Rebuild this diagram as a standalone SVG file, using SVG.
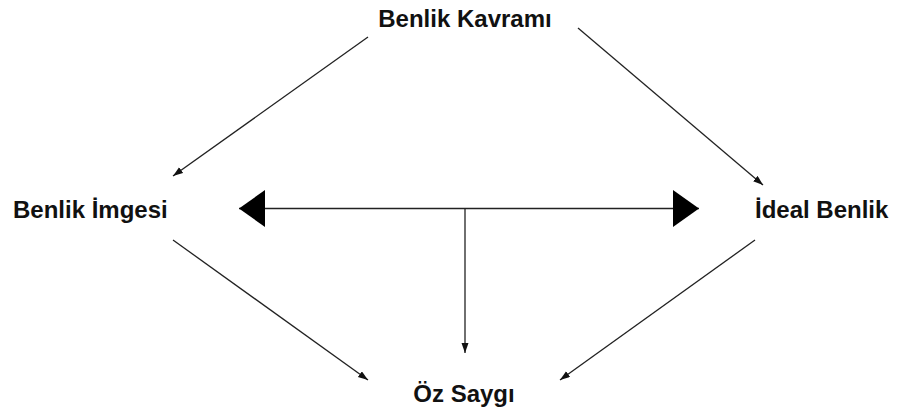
<svg xmlns="http://www.w3.org/2000/svg" width="901" height="412" viewBox="0 0 901 412">
  <style>
    .lbl { font-family: "Liberation Sans", Arial, Helvetica, sans-serif; font-weight: bold; font-size: 24px; fill: #111; }
    .edge { stroke: #222; stroke-width: 1.3; fill: none; }
  </style>
  <defs>
    <marker id="ah" markerUnits="userSpaceOnUse" markerWidth="11" markerHeight="8" refX="10" refY="3.5" orient="auto">
      <path d="M0,0 L10,3.5 L0,7 z" fill="#111"/>
    </marker>
    <marker id="big" markerUnits="userSpaceOnUse" markerWidth="27" markerHeight="38" refX="26" refY="18.5" orient="auto-start-reverse">
      <path d="M0,0 L26,18.5 L0,37 z" fill="#000"/>
    </marker>
  </defs>
  <rect width="901" height="412" fill="#fff"/>
  <g id="connectors">
    <line class="edge" x1="368" y1="37" x2="173" y2="176" marker-end="url(#ah)"/>
    <line class="edge" x1="578" y1="28" x2="763" y2="185" marker-end="url(#ah)"/>
    <line class="edge" x1="173" y1="240" x2="368" y2="380" marker-end="url(#ah)"/>
    <line class="edge" x1="755" y1="240" x2="560" y2="380" marker-end="url(#ah)"/>
    <line class="edge" x1="239" y1="208.5" x2="699" y2="208.5" marker-start="url(#big)" marker-end="url(#big)"/>
    <line class="edge" x1="465" y1="209" x2="465" y2="353" marker-end="url(#ah)"/>
  </g>
  <g id="benlik-kavrami"><text class="lbl" x="465" y="27" text-anchor="middle">Benlik Kavramı</text></g>
  <g id="benlik-imgesi"><text class="lbl" x="13" y="218">Benlik İmgesi</text></g>
  <g id="ideal-benlik"><text class="lbl" x="755" y="218">İdeal Benlik</text></g>
  <g id="oz-saygi"><text class="lbl" x="464" y="402" text-anchor="middle">Öz Saygı</text></g>
</svg>
